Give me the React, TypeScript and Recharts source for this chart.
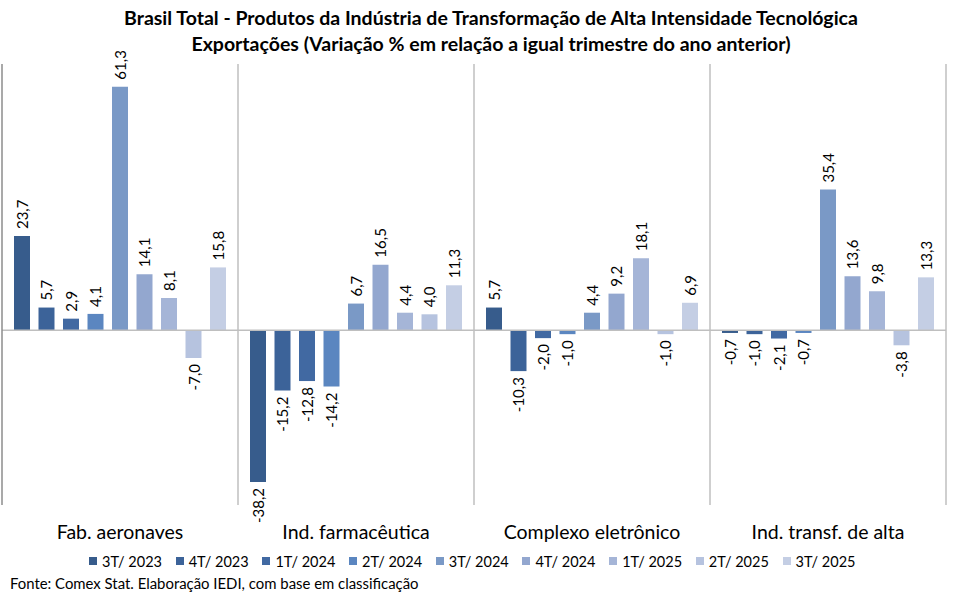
import { BarChart, Bar, XAxis, YAxis, ReferenceLine, LabelList } from 'recharts';

const categories = ['Fab. aeronaves', 'Ind. farmacêutica', 'Complexo eletrônico', 'Ind. transf. de alta'];

const periods = ['3T/ 2023', '4T/ 2023', '1T/ 2024', '2T/ 2024', '3T/ 2024', '4T/ 2024', '1T/ 2025', '2T/ 2025', '3T/ 2025'];

const colors = ['#375C8C', '#3C6399', '#4169A2', '#5B86C0', '#7A99C6', '#93A7CF', '#A5B5D7', '#B6C3DF', '#C4CEE4'];

// one list per category, in the order of periods
const fabAeronaves = [23.7, 5.7, 2.9, 4.1, 61.3, 14.1, 8.1, -7.0, 15.8];
const indFarmaceutica = [-38.2, -15.2, -12.8, -14.2, 6.7, 16.5, 4.4, 4.0, 11.3];
const complexoEletronico = [5.7, -10.3, -2.0, -1.0, 4.4, 9.2, 18.1, -1.0, 6.9];
const indTransfAlta = [-0.7, -1.0, -2.1, -0.7, 35.4, 13.6, 9.8, -3.8, 13.3];

const seriesByCategory = [fabAeronaves, indFarmaceutica, complexoEletronico, indTransfAlta];

const data = categories.map((c, i) => {
  const row: Record<string, string | number> = { category: c };
  periods.forEach((p, j) => {
    row[p] = seriesByCategory[i][j];
  });
  return row;
});

const FONT = 'Lato, "Open Sans", sans-serif';

// rotated value label, above positive bars and below negative ones
// eslint-disable-next-line @typescript-eslint/no-explicit-any
const ValueLabel = (props: any) => {
  const { x, y, width, height, value } = props;
  if (value == null) return null;
  const cx = x + width / 2;
  const neg = value < 0;
  const top = Math.min(y, y + height);
  const bottom = Math.max(y, y + height);
  const ay = neg ? bottom + 6 : top - 7;
  return (
    <text
      x={cx}
      y={ay}
      transform={`rotate(-90 ${cx} ${ay})`}
      textAnchor={neg ? 'end' : 'start'}
      dominantBaseline="central"
      fontSize={15}
      fontFamily={FONT}
      fill="#000"
    >
      {value.toFixed(1).replace('.', ',')}
    </text>
  );
};

// eslint-disable-next-line @typescript-eslint/no-explicit-any
const CategoryTick = ({ x, y, payload }: any) => (
  <text x={x} y={y + 26} textAnchor="middle" fontSize={19.5} fontFamily={FONT} fill="#000">
    {payload.value}
  </text>
);

const App = () => (
  <div style={{ position: 'absolute', left: 0, top: 0, width: 959, height: 594, background: '#fff' }}>
    <div
      style={{
        position: 'absolute', top: 5, left: 0, width: 982, textAlign: 'center',
        fontFamily: FONT, fontWeight: 700, fontSize: 19.5, lineHeight: '26px', color: '#000',
      }}
    >
      Brasil Total - Produtos da Indústria de Transformação de Alta Intensidade Tecnológica
      <br />
      Exportações (Variação % em relação a igual trimestre do ano anterior)
    </div>
    <div style={{ position: 'absolute', left: 0, top: 0 }}>
      <BarChart
        width={959}
        height={594}
        data={data}
        margin={{ top: 64, right: 13, left: 2, bottom: 59 }}
        barCategoryGap={11}
        barGap={8.5}
        barSize={16}
      >
        <XAxis
          dataKey="category"
          axisLine={false}
          tickLine={false}
          tick={<CategoryTick />}
          interval={0}
          height={30}
        />
        <YAxis hide domain={[-44, 67]} />
        <ReferenceLine y={0} stroke="#BFBFBF" strokeWidth={1.5} />
        <ReferenceLine x={categories[0]} position="start" stroke="#8C8C8C" strokeWidth={1.5} />
        {categories.map(c => (
          <ReferenceLine key={c} x={c} position="end" stroke="#BFBFBF" strokeWidth={1.5} />
        ))}
        {periods.map((p, i) => (
          <Bar key={p} dataKey={p} fill={colors[i]} isAnimationActive={false}>
            <LabelList dataKey={p} content={<ValueLabel />} />
          </Bar>
        ))}
      </BarChart>
    </div>
    <div
      style={{
        position: 'absolute', left: 89, top: 551, height: 20, display: 'flex',
        fontFamily: FONT, fontSize: 14.5, color: '#000',
      }}
    >
      {periods.map((p, i) => (
        <div key={p} style={{ width: 86.7, display: 'flex', alignItems: 'center', whiteSpace: 'nowrap' }}>
          <span style={{ width: 8, height: 8, background: colors[i], display: 'inline-block', marginRight: 5 }} />
          {p}
        </div>
      ))}
    </div>
    <div
      style={{
        position: 'absolute', left: 10, top: 574, fontFamily: FONT, fontSize: 14.9, color: '#000',
        whiteSpace: 'nowrap',
      }}
    >
      Fonte: Comex Stat. Elaboração IEDI, com base em classificação
    </div>
  </div>
);

export default App;
